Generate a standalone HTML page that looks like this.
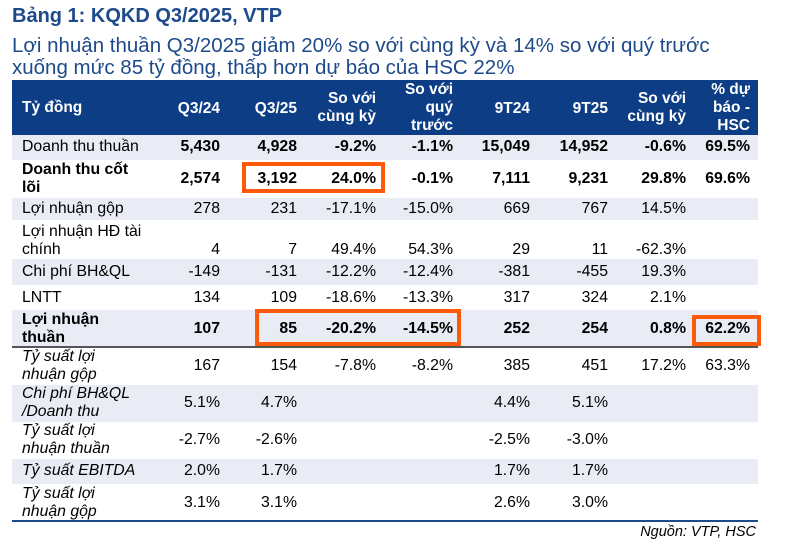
<!DOCTYPE html>
<html><head><meta charset="utf-8"><style>
body{margin:0;background:#fff;width:800px;height:551px;position:relative;overflow:hidden;font-family:"Liberation Sans",Arial,sans-serif;}
.t{position:absolute;left:12px;top:5px;font-size:20px;font-weight:bold;color:#1d4a8a;}
.s{position:absolute;left:12px;top:35px;font-size:20.5px;color:#1d4a8a;line-height:22px;}
.hd{position:absolute;left:12px;top:80px;width:746px;height:55px;background:#0d3d84;}
.row{position:absolute;left:12px;width:746px;}
.sh{background:#e9ecf4;}
.c{position:absolute;font-size:15.8px;color:#000;line-height:18px;text-align:right;}
.h{color:#fff;font-weight:bold;font-size:15.5px;}
.b{font-weight:bold;}
.i{font-style:italic;}
.box{position:absolute;border:4px solid #ff5a0a;box-sizing:border-box;}
</style></head><body>
<div class="t">Bảng 1: KQKD Q3/2025, VTP</div>
<div class="s">Lợi nhuận thuần Q3/2025 giảm 20% so với cùng kỳ và 14% so với quý trước<br>xuống mức 85 tỷ đồng, thấp hơn dự báo của HSC 22%</div>
<div class="hd"></div>
<div class="row sh" style="top:135px;height:25px"></div>
<div class="row sh" style="top:198px;height:22px"></div>
<div class="row sh" style="top:259px;height:26px"></div>
<div class="row sh" style="top:310px;height:37px"></div>
<div class="row" style="top:346px;height:2px;background:#555"></div>
<div class="row sh" style="top:385px;height:37px"></div>
<div class="row sh" style="top:459px;height:25px"></div>
<div class="row" style="top:520px;height:2px;background:#1d4a8a"></div>
<div class="box" style="left:242px;top:162px;width:143px;height:31px"></div>
<div class="box" style="left:255px;top:309px;width:206px;height:37px"></div>
<div class="box" style="left:692px;top:315px;width:69px;height:31px"></div>
<div style="position:absolute;right:44px;top:524px;font-size:14.5px;font-style:italic">Nguồn: VTP, HSC</div>
<script>
var R=[220,297,376,453,530,608,686,750];
function add(x,y,txt,cls,left){var d=document.createElement('div');d.className='c '+(cls||'');d.innerHTML=txt;d.style.top=y+'px';if(left){d.style.left='22px';d.style.textAlign='left';}else{d.style.right=(800-x)+'px';}document.body.insertBefore(d,document.body.querySelector('.box'));}
add(0,99,'Tỷ đồng','h',1);
var H=[[99,'Q3/24'],[99,'Q3/25'],[89,'So với<br>cùng kỳ'],[80,'So với<br>quý<br>trước'],[99,'9T24'],[99,'9T25'],[89,'So với<br>cùng kỳ'],[80,'% dự<br>báo -<br>HSC']];
H.forEach(function(h,i){add(R[i],h[0]+1,h[1],'h');});
var rows=[
[138,138,'Doanh thu thuần','',['5,430','4,928','-9.2%','-1.1%','15,049','14,952','-0.6%','69.5%'],'b'],
[161,170,'Doanh thu cốt<br>lõi','b',['2,574','3,192','24.0%','-0.1%','7,111','9,231','29.8%','69.6%'],'b'],
[200,200,'Lợi nhuận gộp','',['278','231','-17.1%','-15.0%','669','767','14.5%','']],
[223,241,'Lợi nhuận HĐ tài<br>chính','',['4','7','49.4%','54.3%','29','11','-62.3%','']],
[263,263,'Chi phí BH&amp;QL','',['-149','-131','-12.2%','-12.4%','-381','-455','19.3%','']],
[289,289,'LNTT','',['134','109','-18.6%','-13.3%','317','324','2.1%','']],
[311,320,'Lợi nhuận<br>thuần','b',['107','85','-20.2%','-14.5%','252','254','0.8%','62.2%'],'b'],
[348,357,'Tỷ suất lợi<br>nhuận gộp','i',['167','154','-7.8%','-8.2%','385','451','17.2%','63.3%']],
[385,394,'Chi phí BH&amp;QL<br>/Doanh thu','i',['5.1%','4.7%','','','4.4%','5.1%','','']],
[422,431,'Tỷ suất lợi<br>nhuận thuần','i',['-2.7%','-2.6%','','','-2.5%','-3.0%','','']],
[462,462,'Tỷ suất EBITDA','i',['2.0%','1.7%','','','1.7%','1.7%','','']],
[485,494,'Tỷ suất lợi<br>nhuận gộp','i',['3.1%','3.1%','','','2.6%','3.0%','','']]
];
rows.forEach(function(r){add(0,r[0],r[2],r[3],1);r[4].forEach(function(v,i){if(v)add(R[i],r[1],v,r[5]||'');});});
</script>
</body></html>
